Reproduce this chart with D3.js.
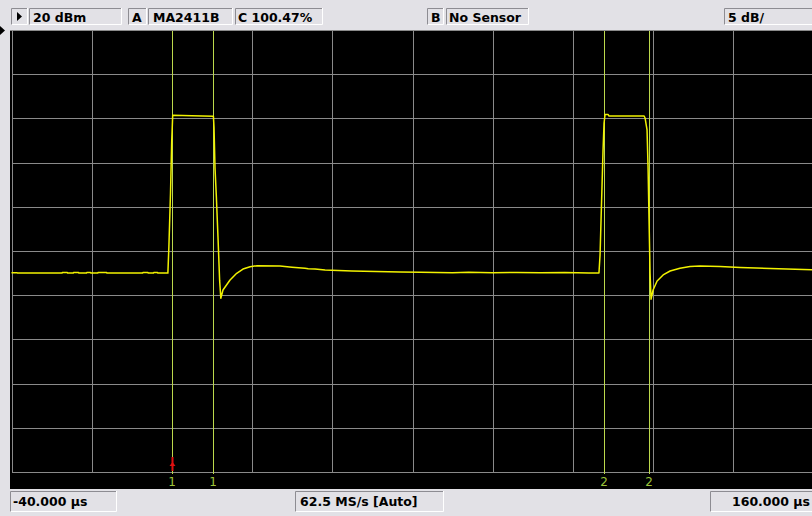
<!DOCTYPE html>
<html><head><meta charset="utf-8">
<script src="https://cdn.jsdelivr.net/npm/d3@7"></script>
<style>
html,body{margin:0;padding:0;background:#e2e1e6;overflow:hidden}
svg{display:block}
text{font-family:"DejaVu Sans",Verdana,sans-serif;font-weight:bold;font-size:12.5px;fill:#000}
</style></head>
<body><svg id="c" width="812" height="516"></svg>
<script>
// ---- data ----
const timeDomain = [-40, 160];          // µs
const levelDomain = [-30, 20];          // dBm (5 dB/div, ref 20 dBm)
const timeTicks = [-40,-20,0,20,40,60,80,100,120,140,160];
const levelTicks = [20,15,10,5,0,-5,-10,-15,-20,-25,-30];
const traceTime = [
 -40.0,-38.6,-38.5,-27.4,-27.3,-26.1,-26.0,-24.6,-24.5,-23.3,-23.2,-21.3,-21.2,-20.3,-20.2,-18.5,-18.4,-16.3,-16.2,-7.3,-7.2,-6.0,-5.9,-4.6,-4.5,-3.6,-3.5,-1.0,
 -0.75,-0.35,-0.05,0.2,5.0,10.35,10.5,10.75,11.1,11.5,11.9,12.2,
 12.74,14.5,16.16,17.73,19.5,21.25,26.96,29.95,33.2,34.0,35.7,38.2,44.9,56.9,
 62,70,74,80,86,92,98,104,106.5,
 106.77,107.02,107.27,107.52,107.77,108.02,108.8,109.02,117.76,118.0,118.24,118.49,118.74,118.99,119.24,119.49,
 120.0,121.0,122.5,124.24,126.7,129.2,131.7,136.7,141.7,149.2,160.0
];
const traceLevel = [
 -7.45,-7.45,-7.5,-7.5,-7.42,-7.42,-7.5,-7.5,-7.42,-7.42,-7.5,-7.5,-7.42,-7.42,-7.5,-7.5,-7.42,-7.42,-7.5,-7.5,-7.42,-7.42,-7.5,-7.5,-7.42,-7.42,-7.5,-7.5,
 -4.5,1.5,7.4,10.35,10.3,10.25,9.0,4.4,1.0,-3.5,-8.3,-10.35,
 -9.41,-8.28,-7.52,-7.04,-6.78,-6.66,-6.70,-6.84,-6.96,-7.0,-7.04,-7.15,-7.26,-7.38,
 -7.4,-7.45,-7.4,-7.45,-7.42,-7.47,-7.43,-7.48,-7.48,
 -5.45,-1.5,2.47,6.43,9.48,10.44,10.44,10.27,10.27,10.05,9.37,8.69,4.5,-1.5,-7.5,-10.45,
 -9.41,-8.39,-7.71,-7.26,-6.96,-6.75,-6.70,-6.75,-6.87,-6.98,-7.12
];
const markerTime = [0.1, 10.3, 108.0, 119.2];
const markerLabel = ["1","1","2","2"];
const topLabels = ["20 dBm","A","MA2411B","C 100.47%","B","No Sensor","5 dB/"];
const bottomLabels = ["-40.000 µs","62.5 MS/s [Auto]","160.000 µs"];

// ---- drawing ----
const svg = d3.select("#c");
const x = d3.scaleLinear().domain(timeDomain).range([11.5, 813.5]);
const y = d3.scaleLinear().domain(levelDomain).range([472, 30]);

// black screen
svg.append("rect").attr("x",10).attr("y",30).attr("width",802).attr("height",459).attr("fill","#000");

// grid via axes
const gx = svg.append("g").attr("transform","translate(0,472)")
  .call(d3.axisBottom(x).tickValues(timeTicks).tickSize(-442).tickFormat(""));
const gy = svg.append("g").attr("transform","translate(11.5,0)")
  .call(d3.axisLeft(y).tickValues(levelTicks).tickSize(-802).tickFormat(""));
[gx,gy].forEach(g=>{g.select(".domain").remove();
  g.selectAll(".tick line").attr("stroke","#8a8a8a").attr("stroke-width",1).attr("shape-rendering","crispEdges");});
svg.append("line").attr("x1",10).attr("x2",812).attr("y1",30.5).attr("y2",30.5).attr("stroke","#8a8a8a");

// markers
const mk = svg.append("g");
markerTime.forEach((t,i)=>{
  const xp = Math.floor(x(t))+0.5;
  mk.append("line").attr("x1",xp).attr("x2",xp).attr("y1",31).attr("y2",474)
    .attr("stroke","#bcd84c").attr("stroke-width",1);
  mk.append("text").attr("x",xp-0.5).attr("y",486).attr("text-anchor","middle")
    .style("font-weight","normal").style("font-size","12px").style("fill","#9cc43a").text(markerLabel[i]);
});
// red active-marker indicator
const rx = Math.floor(x(markerTime[0]))+0.5;
mk.append("line").attr("x1",rx).attr("x2",rx).attr("y1",457).attr("y2",471).attr("stroke","#e01010").attr("stroke-width",2);
mk.append("path").attr("d",`M${rx-3},466 L${rx},462 L${rx+3},466 Z`).attr("fill","#e01010");

// trace
const pts = traceTime.map((t,i)=>[t,traceLevel[i]]);
svg.append("path").datum(pts)
  .attr("d", d3.line().x(d=>x(d[0])).y(d=>y(d[1])))
  .attr("fill","none").attr("stroke","#f2f200").attr("stroke-width",1.5).attr("stroke-linejoin","round");

// sunken boxes
function box(bx,by,bw,bh){
  const g = svg.append("g");
  g.append("rect").attr("x",bx).attr("y",by).attr("width",bw).attr("height",bh).attr("fill","#e2e1e6");
  g.append("path").attr("d",`M${bx+0.5},${by+bh} V${by+0.5} H${bx+bw}`).attr("stroke","#8d8c92").attr("fill","none");
  g.append("path").attr("d",`M${bx+0.5},${by+bh-0.5} H${bx+bw-0.5} V${by}`).attr("stroke","#ffffff").attr("fill","none");
}
const topBoxes = [[11,8,17,17],[29,8,93,17],[128,8,19,17],[148,8,85,17],[235,8,88,17],[427,8,17,17],[446,8,83,17],[724,8,92,17]];
topBoxes.forEach(b=>box(...b));
const topX = [33,132,153,238,431,449,728];
topLabels.forEach((s,i)=>svg.append("text").attr("x",topX[i]).attr("y",22).text(s));
// play triangle
svg.append("path").attr("d","M17,12 L22,16.5 L17,21 Z").attr("fill","#000");
// reference arrow at left edge
svg.append("path").attr("d","M0,26 L5,30.5 L0,35 Z").attr("fill","#000");

const botBoxes = [[10,491,107,21],[295,491,149,21],[710,491,106,21]];
botBoxes.forEach(b=>box(...b));
const botX = [13,300,732];
bottomLabels.forEach((s,i)=>svg.append("text").attr("x",botX[i]).attr("y",506).text(s));
</script></body></html>
